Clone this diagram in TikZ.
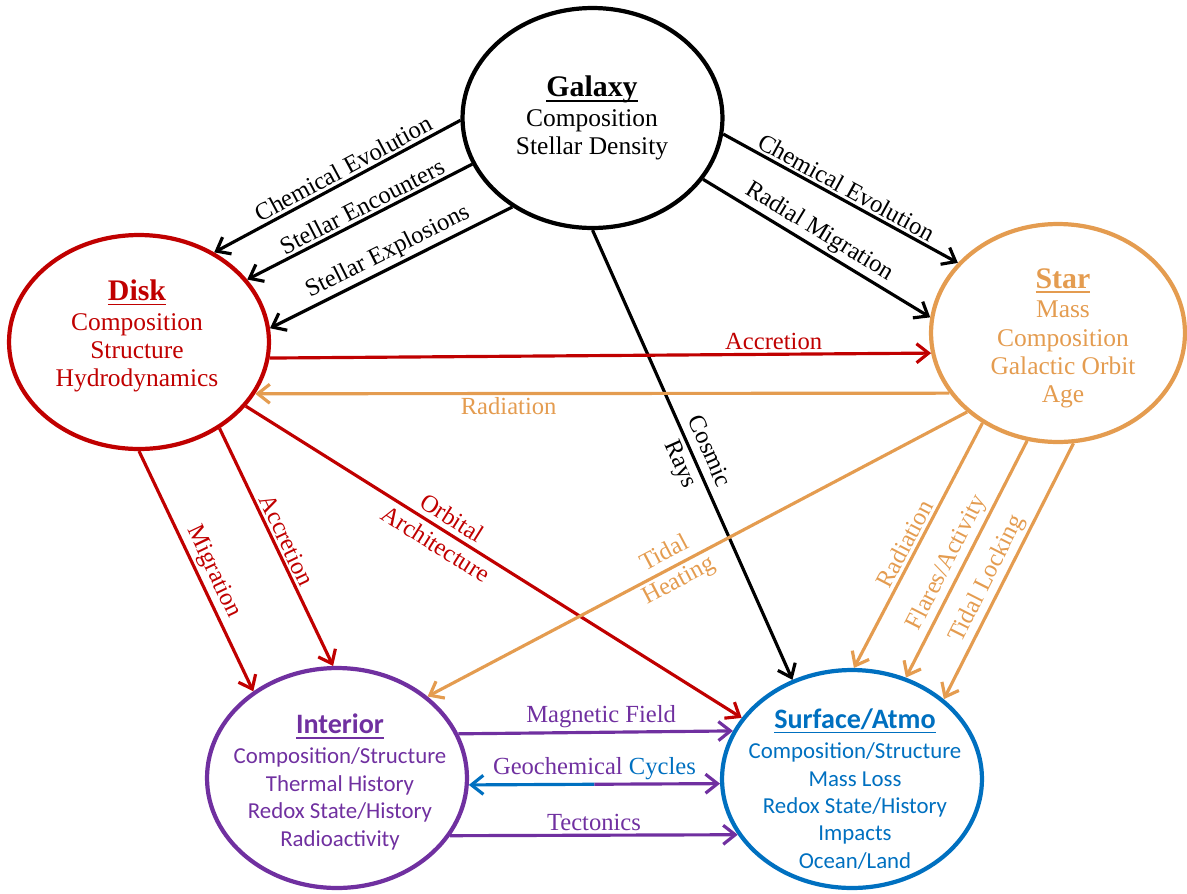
\documentclass[tikz,border=0pt]{standalone}
\usepackage{fontspec}
\setmainfont{Liberation Serif}
\newfontfamily\carl{Carlito}
\usetikzlibrary{shapes.geometric,arrows.meta}
\definecolor{dred}{RGB}{192,0,0}
\definecolor{orng}{RGB}{228,156,80}
\definecolor{purp}{RGB}{112,48,160}
\definecolor{blu}{RGB}{0,112,192}
\newcommand\ulin[1]{\setbox0=\hbox{#1}\rlap{\rule[-2.8pt]{\wd0}{1.1pt}}\box0}
\tikzset{
 ell/.style={ellipse, draw, line width=2.4pt, inner sep=0pt},
 txt/.style={align=center, inner sep=0pt, font=\fontsize{14.5}{16}\selectfont},
 stxt/.style={align=center, inner sep=0pt, font=\carl\fontsize{13}{15.6}\selectfont},
 arr/.style={line width=1.8pt, -{Straight Barb[length=2.4mm,width=3.8mm]}},
 lbl/.style={font=\fontsize{14}{15}\selectfont, inner sep=1.5pt, align=center},
 lbltwo/.style={lbl, font=\fontsize{14}{17.5}\selectfont},
}
\begin{document}
\begin{tikzpicture}[x=0.02cm,y=-0.02cm]
\useasboundingbox (0,0) rectangle (1187,893);
% ellipses
\node[ell, draw=black, minimum width=5.2cm, minimum height=4.4cm] (gal) at (592.5,118) {};
\node[ell, draw=dred, minimum width=5.2cm, minimum height=4.28cm] (disk) at (139,342) {};
\node[ell, draw=orng, minimum width=5.08cm, minimum height=4.36cm] (star) at (1058,333) {};
\node[ell, draw=purp, minimum width=5.2cm, minimum height=4.4cm] (int) at (337,778) {};
\node[ell, draw=blu, minimum width=5.2cm, minimum height=4.36cm] (surf) at (852,779) {};
% ellipse texts
\node[txt, text=black] (galt) at (592,118) {\ulin{\fontsize{17}{19}\selectfont\bfseries Galaxy}\\[1pt] Composition\\ Stellar Density};
\node[txt, text=dred] (diskt) at (137,336) {\ulin{\fontsize{17}{19}\selectfont\bfseries Disk}\\[1pt] Composition\\ Structure\\ Hydrodynamics};
\node[txt, text=orng] (start) at (1063,338) {\ulin{\fontsize{17}{19}\selectfont\bfseries Star}\\[1pt] Mass\\ Composition\\ Galactic Orbit\\ Age};
\node[stxt, text=purp] (intt) at (340,782) {\ulin{\fontsize{16}{18}\selectfont\bfseries Interior}\\[1.5pt] Composition/Structure\\ Thermal History\\ Redox State/History\\ Radioactivity};
\node[stxt, text=blu] (surft) at (855,789) {\ulin{\fontsize{16}{18}\selectfont\bfseries Surface/Atmo}\\[1.5pt] Composition/Structure\\ Mass Loss\\ Redox State/History\\ Impacts\\ Ocean/Land};
% galaxy arrows
\draw[arr, black] (gal.181) -- node[lbl, sloped, above, pos=0.45] (l1) {Chemical Evolution} (disk.50);
\draw[arr, black] (gal.201) -- node[lbl, sloped, above, pos=0.464] (l2) {Stellar Encounters} (disk.30);
\draw[arr, black] (gal.228) -- node[lbl, sloped, above, pos=0.485] (l3) {Stellar Explosions} (disk.6);
\draw[arr, black] (gal.353.4) -- node[lbl, sloped, above, pos=0.5] (l4) {Chemical Evolution} (star.145);
\draw[arr, black] (gal.331) -- node[lbl, sloped, above, pos=0.476] (l5) {Radial Migration} (star.173);
\draw[arr, black] (gal.270) -- node[lbltwo, sloped, pos=0.507] (l6) {Cosmic\\Rays} (surf.121);
% disk arrows
\draw[arr, dred] (disk.353.4) -- node[lbl, above, pos=0.762] (l7) {Accretion} (star.189.5);
\draw[arr, dred] (disk.270) -- node[lbl, sloped, above, pos=0.53] (l9) {Migration} (int.134);
\draw[arr, dred] (disk.313.6) -- node[lbl, sloped, above, pos=0.493] (l10) {Accretion} (int.92);
\draw[arr, dred] (disk.329.7) -- node[lbltwo, sloped, pos=0.40] (l11) {Orbital\\Architecture} (surf.151.8);
% star arrows
\draw[arr, orng] (star.209) -- node[lbl, below, pos=0.635] (l8) {Radiation} (disk.336);
\draw[arr, orng] (star.221) -- node[lbltwo, sloped, pos=0.547] (l12) {Tidal\\Heating} (int.42.6);
\draw[arr, orng] (star.230.8) -- node[lbl, sloped, above, pos=0.517] (l13) {Radiation} (surf.89.5);
\draw[arr, orng] (star.254.7) -- node[lbl, sloped, above, pos=0.545] (l14) {Flares/Activity} (surf.62.5);
\draw[arr, orng] (star.278.6) -- node[lbl, sloped, above, pos=0.558] (l15) {Tidal Locking} (surf.41.2);
% interior-surface arrows
\draw[arr, purp] (int.20.9) -- node[lbl, above, pos=0.52] (l16) {Magnetic Field} (surf.158.9);
\path (int.357) -- coordinate[pos=0.5] (gmid) (surf.182.7);
\draw[arr, blu] (gmid) -- (int.357);
\draw[arr, purp] (gmid) -- (surf.182.7);
\node[lbl, above=1pt] (l17) at (gmid) {\textcolor{purp}{Geochemical} \textcolor{blu}{Cycles}};
\draw[arr, purp] (int.333.2) -- node[lbl, above, pos=0.5] (l18) {Tectonics} (surf.206.6);
\end{tikzpicture}
\end{document}
